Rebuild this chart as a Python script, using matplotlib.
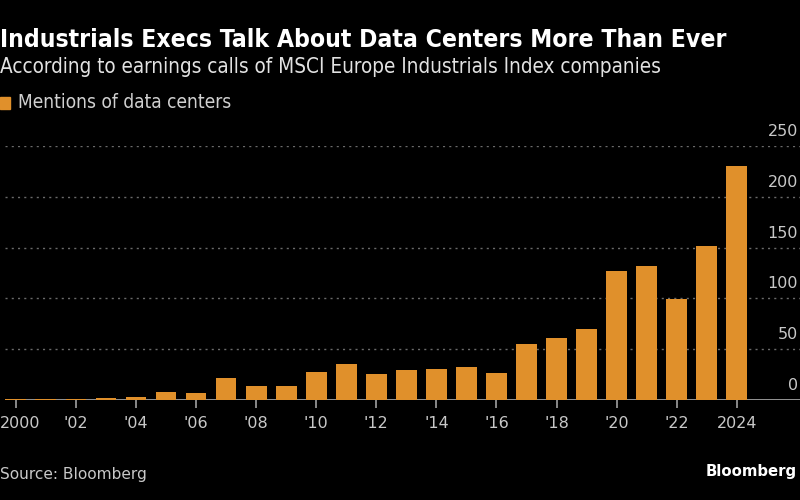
import matplotlib
matplotlib.use("Agg")
import matplotlib.pyplot as plt
from matplotlib import font_manager as fm
from matplotlib import transforms
from matplotlib.patches import Rectangle

W, H = 800, 500

years = list(range(2000, 2025))
mentions = [1, 1, 1, 2, 3, 8, 7, 22, 14, 14, 28, 35, 26, 30, 31, 32, 27,
            55, 61, 70, 127, 132, 99, 152, 230]
tick_years = list(range(2000, 2025, 2))
tick_labels = ["2000", "'02", "'04", "'06", "'08", "'10", "'12", "'14",
               "'16", "'18", "'20", "'22", "2024"]
y_ticks = [0, 50, 100, 150, 200, 250]

BG = "#000000"
BAR = "#E0902B"
GRID = "#6a6a6a"
AXIS = "#a0a0a0"
TICK_TXT = "#c8c8c8"

# narrow face for the headline text, if there is one
fonts = fm.fontManager.ttflist
if any(f.name == "DejaVu Sans" and f.stretch == "condensed" for f in fonts):
  HEAD = dict(family="DejaVu Sans", stretch="condensed")
elif any(f.name == "Liberation Sans Narrow" for f in fonts):
  HEAD = dict(family="Liberation Sans Narrow")
else:
  HEAD = dict(family="DejaVu Sans")

def fx(px): return px / W
def fy(py): return 1 - py / H

fig = plt.figure(figsize=(W / 100, H / 100), dpi=100, facecolor=BG)

# axes: y=0 at 400px, y=250 at 146px, x from 5px to 805px
ax = fig.add_axes([fx(5), fy(400), 800 / W, (400 - 146) / H], facecolor=BG)
ax.set_xlim(1999.64, 2026.27)
ax.set_ylim(0, 250)

for v in y_ticks[1:]:
  ax.axhline(v, color=GRID, lw=1, ls=(0, (1.5, 3)), zorder=1)
ax.axhline(0, color=AXIS, lw=1.3, zorder=2)
ax.bar(years, mentions, width=0.69, color=BAR, zorder=3, clip_on=False)

for s in ax.spines.values():
  s.set_visible(False)

ax.set_xticks(tick_years)
ax.set_xticklabels(tick_labels)
ax.tick_params(axis="x", length=5.5, width=1.2, color=AXIS, labelcolor=TICK_TXT,
               labelsize=11.5, pad=6)
ax.set_yticks([])
# nudge the first year label so it stays on the canvas
first = ax.get_xticklabels()[0]
first.set_transform(first.get_transform() + transforms.ScaledTranslation(4 / 100, 0, fig.dpi_scale_trans))

# y labels sit above their gridlines, right aligned at the canvas edge
trans = transforms.offset_copy(ax.get_yaxis_transform(), fig=fig, x=-5, y=7.2, units="points")
for v in y_ticks:
  ax.text(1.0, v, str(v), transform=trans, ha="right", va="baseline",
          color=TICK_TXT, fontsize=11.5, clip_on=False)

title = fig.text(fx(0), fy(46.7), "Industrials Execs Talk About Data Centers More Than Ever",
                 color="white", fontsize=16, fontweight="bold", va="baseline", **HEAD)
sub = fig.text(fx(0), fy(72.7), "According to earnings calls of MSCI Europe Industrials Index companies",
               color="#e2e2e2", fontsize=15, va="baseline", **HEAD)
fig.patches.append(Rectangle((fx(0), fy(109.3)), 10 / W, 12.6 / H, transform=fig.transFigure,
                             color=BAR, figure=fig))
leg = fig.text(fx(18), fy(108.3), "Mentions of data centers", color="#d0d0d0",
               fontsize=13, va="baseline", **HEAD)
src = fig.text(fx(0), fy(479), "Source: Bloomberg", color=TICK_TXT, fontsize=11.2,
               va="baseline", family="DejaVu Sans")
logo = fig.text(fx(797), fy(475.7), "Bloomberg", color="white", fontsize=12,
                fontweight="bold", ha="right", va="baseline", family="DejaVu Sans")

# scale the header texts so that they span the same width as in the original
fig.canvas.draw()
r = fig.canvas.get_renderer()
for t, width in [(title, 730), (sub, 666), (leg, 213), (logo, 91), (src, 146)]:
  w = t.get_window_extent(r).width
  t.set_fontsize(t.get_fontsize() * width / w)

fig.savefig("out.png", dpi=100, facecolor=BG)
